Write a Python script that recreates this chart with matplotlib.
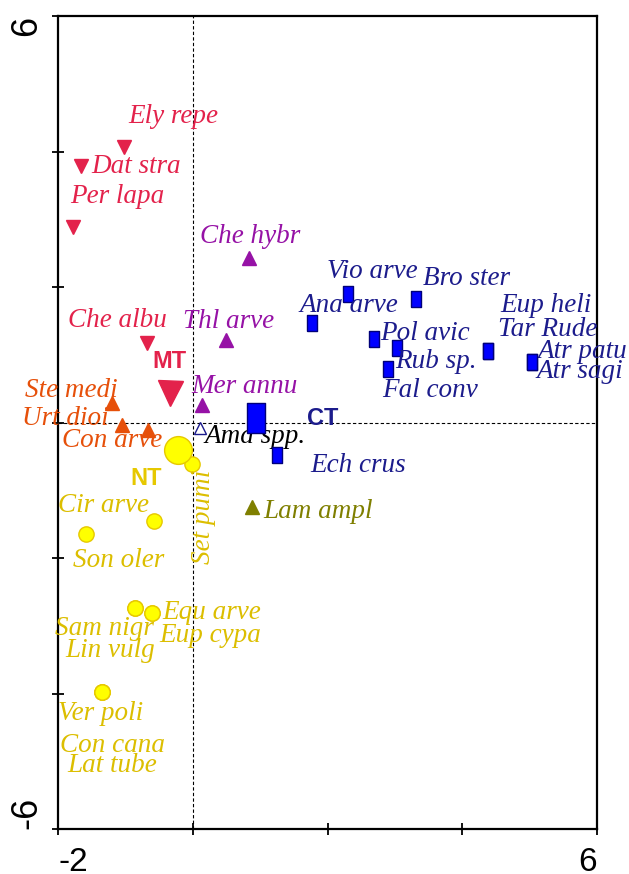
import matplotlib
matplotlib.use('Agg')
import matplotlib.pyplot as plt

# species scores
species = ['Ely repe', 'Dat stra', 'Per lapa', 'Che albu',
           'Ste medi', 'Urt dioi', 'Con arve',
           'Che hybr', 'Thl arve', 'Mer annu',
           'Ama spp.',
           'Ech crus', 'Vio arve', 'Bro ster', 'Ana arve', 'Pol avic', 'Rub sp.',
           'Fal conv', 'Eup heli', 'Tar Rude', 'Atr patu', 'Atr sagi',
           'Lam ampl',
           'Set pumi', 'Cir arve', 'Son oler', 'Sam nigr', 'Lin vulg',
           'Equ arve', 'Eup cypa', 'Ver poli', 'Con cana', 'Lat tube']
sp_x = [-1.02, -1.66, -1.78, -0.68,
        -1.20, -1.05, -0.665,
        0.834, 0.493, 0.136,
        0.107,
        1.249, 2.303, 3.312, 1.769, 2.688, 3.030,
        2.896, 4.380, 4.380, 5.033, 5.033,
        0.878,
        -0.012, -0.576, -1.585, -0.858, -0.858,
        -0.605, -0.605, -1.347, -1.347, -1.347]
sp_y = [4.066, 3.786, 2.886, 1.173,
        0.288, -0.037, -0.111,
        2.428, 1.218, 0.258,
        -0.081,
        -0.480, 1.897, 1.823, 1.469, 1.232, 1.100,
        0.790, 1.055, 1.055, 0.893, 0.893,
        -1.247,
        -0.613, -1.454, -1.646, -2.738, -2.738,
        -2.812, -2.812, -3.978, -3.978, -3.978]
sp_group = ['red'] * 4 + ['orange'] * 3 + ['purple'] * 3 + ['open'] + \
           ['blue'] * 11 + ['olive'] + ['yellow'] * 10

# treatment centroids
centroids = ['MT', 'CT', 'NT']
cent_x = [-0.338, 0.938, -0.220]
cent_y = [0.435, 0.066, -0.406]

# label offsets in pixels (dx, dy), left/baseline anchored
label_off = [(4, 24), (10, -7), (-3, 24), (-79, 16),
             (-87, 6), (-100, 0), (-86, -17),
             (-49, 15), (-43, 12), (-11, 12),
             (5, -15),
             (33, -17), (-21, 16), (7, 14), (-12, 11), (6, -1), (-2, -20),
             (-6, -28), (12, 39), (10, 15), (6, 4), (5, -16),
             (11, -11),
             (12, -6), (-96, 9), (-13, -33), (-80, -27), (-70, -49),
             (10, -6), (7, -29), (-44, -28), (-42, -60), (-35, -80)]
cent_off = [(-18, 25), (51, -7), (-48, -35)]

rect = [(-0.3, -0.5), (0.3, -0.5), (0.3, 0.5), (-0.3, 0.5), (-0.3, -0.5)]
styles = {
    'red':    dict(marker='v', mfc='#e3224b', mec='#e3224b', ms=10, txt='#e3224b'),
    'orange': dict(marker='^', mfc='#e6500a', mec='#e6500a', ms=10, txt='#e6500a'),
    'purple': dict(marker='^', mfc='#9612a6', mec='#9612a6', ms=10, txt='#9612a6'),
    'open':   dict(marker='^', mfc='white', mec='#1a1a8c', ms=9, txt='black'),
    'blue':   dict(marker=rect, mfc='#0000ff', mec='#00007a', ms=11.5, txt='#1c1c8c'),
    'olive':  dict(marker='^', mfc='#7f7f00', mec='#7f7f00', ms=10, txt='#7f7f00'),
    'yellow': dict(marker='o', mfc='#ffff00', mec='#e6c800', ms=11, txt='#dcbe00'),
}
cent_style = [
    dict(marker='v', mfc='#e3224b', mec='#e3224b', ms=18, txt='#e3224b'),
    dict(marker=rect, mfc='#0000ff', mec='#00007a', ms=21, txt='#1c1c8c'),
    dict(marker='o', mfc='#ffff00', mec='#e6c800', ms=20, txt='#e6c800'),
]

fig = plt.figure(figsize=(6.29, 8.74), dpi=100)
ax = fig.add_axes([58 / 629, 1 - 829 / 874, 539 / 629, 813 / 874])
ax.set_xlim(-2, 6)
ax.set_ylim(-6, 6)

ax.axvline(0, color='black', lw=0.8, ls=(0, (3, 2)), zorder=1)
ax.axhline(0, color='black', lw=0.8, ls=(0, (3, 2)), zorder=1)

serif = dict(family='Liberation Serif', style='italic', size=19.5)

for i, name in enumerate(species):
    st = styles[sp_group[i]]
    ax.plot(sp_x[i], sp_y[i], ls='none', marker=st['marker'], mfc=st['mfc'],
            mec=st['mec'], ms=st['ms'], mew=1.0, zorder=3)
    if name == 'Set pumi':
        ax.annotate(name, (sp_x[i], sp_y[i]), xytext=label_off[i],
                    textcoords='offset pixels', rotation=90, ha='center',
                    va='top', color=st['txt'], **serif)
    else:
        ax.annotate(name, (sp_x[i], sp_y[i]), xytext=label_off[i],
                    textcoords='offset pixels', ha='left', va='baseline',
                    color=st['txt'], **serif)

for i, name in enumerate(centroids):
    st = cent_style[i]
    ax.plot(cent_x[i], cent_y[i], ls='none', marker=st['marker'], mfc=st['mfc'],
            mec=st['mec'], ms=st['ms'], mew=1.0, zorder=4)
    ax.annotate(name, (cent_x[i], cent_y[i]), xytext=cent_off[i],
                textcoords='offset pixels', ha='left', va='baseline',
                color=st['txt'], family='Liberation Sans', weight='bold', size=17)

for sp in ax.spines.values():
    sp.set_linewidth(1.6)

ax.set_xticks([-2, 0, 2, 4, 6])
ax.set_xticklabels(['-2', '', '', '', '6'], family='Liberation Sans', size=24)
ax.set_yticks([-6, -4, -2, 0, 2, 4, 6])
ax.set_yticklabels(['-6', '', '', '', '', '', '6'], family='Liberation Sans',
                   size=26, rotation=90)
ax.tick_params(direction='inout', length=8, width=1.3)
ax.tick_params(axis='x', pad=9)
ax.tick_params(axis='y', pad=6)
xl = ax.get_xticklabels()
xl[0].set_ha('left')
xl[-1].set_ha('right')
yl = ax.get_yticklabels()
yl[0].set_va('bottom')
yl[-1].set_va('top')
yl[0].set_y(-5.9)
yl[-1].set_y(5.9)

fig.savefig('out.png', dpi=100)
